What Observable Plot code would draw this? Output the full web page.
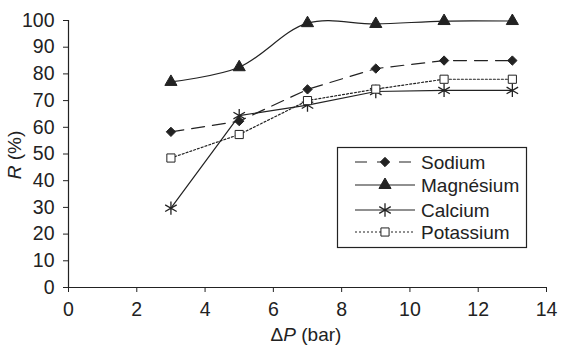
<!DOCTYPE html>
<html>
<head>
<meta charset="utf-8">
<script src="https://cdn.jsdelivr.net/npm/d3@7"></script>
<script src="https://cdn.jsdelivr.net/npm/@observablehq/plot@0.6"></script>
<style>
  html, body { margin: 0; padding: 0; background: #fff; }
  #chart { width: 565px; height: 347px; }
</style>
</head>
<body>
<div id="chart"></div>
<script>
const pressures = [3, 5, 7, 9, 11, 13];
const sodium = [58.3, 62.3, 74.2, 82, 85, 85];
const magnesium = [77, 82.5, 99, 98.7, 99.8, 99.8];
const calcium = [29.7, 64.4, 68.3, 73.4, 73.8, 73.8];
const potassium = [48.5, 57.3, 70, 74.3, 78, 78];
const seriesNames = ["Sodium", "Magnésium", "Calcium", "Potassium"];
const xTicks = [0, 2, 4, 6, 8, 10, 12, 14];
const yTicks = [0, 10, 20, 30, 40, 50, 60, 70, 80, 90, 100];

const ink = "#222";
const font = "'Liberation Sans', Arial, sans-serif";
const styles = {
  "Sodium":    {dash: "13,8", symbol: "diamond2", fill: ink, r: 4.2, curve: "linear"},
  "Magnésium": {dash: null, symbol: "triangle", fill: ink, r: 4.5, curve: "catmull-rom"},
  "Calcium":   {dash: null, symbol: "asterisk", fill: "none", r: 6.3, curve: "linear"},
  "Potassium": {dash: "2,2", symbol: "square", fill: "white", r: 4.6, curve: "linear"}
};
const values = {"Sodium": sodium, "Magnésium": magnesium, "Calcium": calcium, "Potassium": potassium};
const tables = {};
for (const s of seriesNames) tables[s] = pressures.map((p, i) => ({x: p, y: values[s][i], s}));

const marks = [
  Plot.axisX({ticks: xTicks, tickSize: 5, tickPadding: 10, fontSize: 19.5, label: null}),
  Plot.axisY({ticks: yTicks, tickSize: 5, tickPadding: 9, fontSize: 19.5, label: null}),
  Plot.ruleX([0], {stroke: ink, strokeWidth: 1.2}),
  Plot.ruleY([0], {stroke: ink, strokeWidth: 1.2})
];
for (const s of seriesNames) {
  const st = styles[s];
  marks.push(Plot.line(tables[s], {x: "x", y: "y", stroke: ink, strokeWidth: 1.2,
    strokeDasharray: st.dash, curve: st.curve}));
}
for (const s of seriesNames) {
  const st = styles[s];
  marks.push(Plot.dot(tables[s], {x: "x", y: "y", symbol: () => st.symbol, r: st.r,
    fill: st.fill, stroke: ink, strokeWidth: st.symbol === "asterisk" ? 1.3 : 1}));
}

const chart = Plot.plot({
  width: 565, height: 347,
  marginLeft: 68, marginRight: 19, marginTop: 20, marginBottom: 60,
  style: {fontFamily: font, fontSize: "19px", color: "#222", background: "white"},
  x: {domain: [0, 14]},
  y: {domain: [0, 100]},
  symbol: {type: "identity"},
  marks
});
document.getElementById("chart").appendChild(chart);

const svg = d3.select(chart);
// axis titles
const yt = svg.append("text").attr("transform", "translate(21,155) rotate(-90)")
  .attr("text-anchor", "middle").attr("fill", ink)
  .style("font-family", font).style("font-size", "19px");
yt.append("tspan").attr("font-style", "italic").text("R");
yt.append("tspan").text(" (%)");
const xt = svg.append("text").attr("x", 306).attr("y", 341)
  .attr("text-anchor", "middle").attr("fill", ink)
  .style("font-family", font).style("font-size", "19px");
xt.append("tspan").text("Δ");
xt.append("tspan").attr("font-style", "italic").text("P");
xt.append("tspan").text(" (bar)");

// legend
const lg = svg.append("g").attr("text-anchor", "start");
lg.append("rect").attr("x", 337.5).attr("y", 147.5).attr("width", 189).attr("height", 100)
  .attr("fill", "white").attr("stroke", ink).attr("stroke-width", 1.2);
const rowsY = [162, 185, 210, 232];
const symMap = {diamond2: d3.symbolDiamond2, triangle: d3.symbolTriangle, asterisk: d3.symbolAsterisk, square: d3.symbolSquare};
seriesNames.forEach((s, i) => {
  const st = styles[s];
  const y = rowsY[i];
  lg.append("line").attr("x1", 355).attr("x2", 415).attr("y1", y).attr("y2", y)
    .attr("stroke", ink).attr("stroke-width", 1.2)
    .attr("stroke-dasharray", s === "Sodium" ? "12,10" : st.dash);
  lg.append("path").attr("transform", `translate(385,${y})`)
    .attr("d", d3.symbol(symMap[st.symbol], Math.PI * st.r * st.r)())
    .attr("fill", st.fill).attr("stroke", ink).attr("stroke-width", st.symbol === "asterisk" ? 1.3 : 1);
  lg.append("text").attr("x", 421).attr("y", y).attr("dy", "0.35em").attr("fill", ink)
    .attr("text-anchor", "start")
    .style("font-family", font).style("font-size", "19px")
    .text(s);
});
</script>
</body>
</html>
